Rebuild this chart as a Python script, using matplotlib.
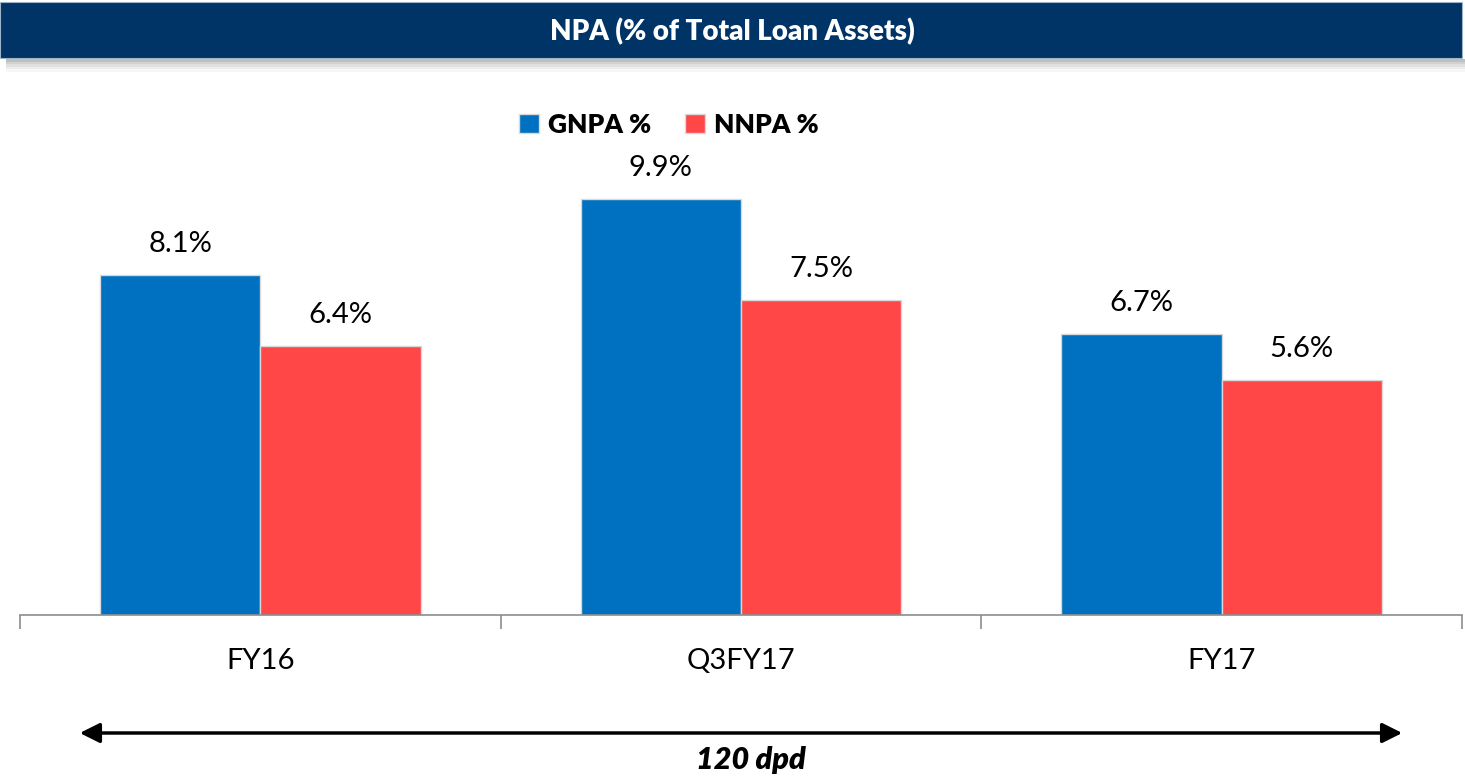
import matplotlib.pyplot as plt
import matplotlib.patches as mpatches
import numpy as np

# Data
categories = ['FY16', 'Q3FY17', 'FY17']
gnpa = [8.1, 9.9, 6.7]
nnpa = [6.4, 7.5, 5.6]
series_names = ['GNPA %', 'NNPA %']

colors = {
    'gnpa': '#0070C0',
    'nnpa': '#FF4747',
    'edge': '#D9D9D9',
    'axis': '#8C8C8C',
    'banner': '#003366',
}

plt.rcParams['font.family'] = ['Lato', 'DejaVu Sans']

fig = plt.figure(figsize=(14.65, 7.8), dpi=100)
fig.patch.set_facecolor('white')

# Title banner with soft shadow underneath
for i, a in enumerate([0.25, 0.18, 0.12, 0.07, 0.03]):
    fig.patches.append(mpatches.Rectangle(
        (0.004, 1 - (59 + 2.5 * (i + 1)) / 780), 0.996, 2.5 / 780,
        transform=fig.transFigure, facecolor='black', alpha=a, linewidth=0, zorder=0))
fig.patches.append(mpatches.Rectangle(
    (0.0, 1 - 58 / 780), 0.998, 56 / 780,
    transform=fig.transFigure, facecolor=colors['banner'], edgecolor='#9FB3C8',
    linewidth=0.8, zorder=1))
fig.text(0.5, 1 - 32 / 780, 'NPA (% of Total Loan Assets)', color='white',
         fontsize=20, fontweight='heavy', ha='center', va='center')

# Main axes
ax = fig.add_axes([20 / 1465, 1 - 615 / 780, 1442 / 1465, 504 / 780])
x = np.arange(len(categories))
w = 1 / 3
b1 = ax.bar(x - w / 2, gnpa, w, color=colors['gnpa'], edgecolor=colors['edge'],
            linewidth=1, label=series_names[0])
b2 = ax.bar(x + w / 2, nnpa, w, color=colors['nnpa'], edgecolor=colors['edge'],
            linewidth=1, label=series_names[1])

for bars, vals in ((b1, gnpa), (b2, nnpa)):
    for rect, v in zip(bars, vals):
        ax.annotate(f'{v:.1f}%', (rect.get_x() + rect.get_width() / 2, v),
                    xytext=(0, 13), textcoords='offset points',
                    ha='center', va='bottom', fontsize=21, color='black')

ax.set_xlim(-0.5, len(categories) - 0.5)
ax.set_ylim(0, 12)
ax.set_yticks([])
ax.set_xticks(x)
ax.set_xticklabels(categories, fontsize=21)
ax.set_xticks(np.arange(-0.5, len(categories)), minor=True)
ax.tick_params(axis='x', which='major', length=0, pad=24)
ax.tick_params(axis='x', which='minor', length=10, width=1.2, color=colors['axis'])
for side in ('top', 'right', 'left'):
    ax.spines[side].set_visible(False)
ax.spines['bottom'].set_color(colors['axis'])
ax.spines['bottom'].set_linewidth(1.2)
ax.patch.set_alpha(0)

# Legend
handles = [mpatches.Patch(facecolor=colors['gnpa'], edgecolor=colors['edge']),
           mpatches.Patch(facecolor=colors['nnpa'], edgecolor=colors['edge'])]
fig.legend(handles, series_names, loc='center', bbox_to_anchor=(669 / 1465, 1 - 125 / 780),
           ncol=2, frameon=False, prop={'weight': 'heavy', 'size': 19},
           handlelength=0.75, handleheight=0.75, handletextpad=0.35, columnspacing=1.3)

# Bottom arrow + caption
fig.patches.append(mpatches.FancyArrowPatch(
    (77 / 1465, 1 - 733 / 780), (1405 / 1465, 1 - 733 / 780),
    transform=fig.transFigure, arrowstyle='<|-|>', mutation_scale=30,
    color='black', linewidth=2.5))
fig.text(751 / 1465, 1 - 760 / 780, '120 dpd', fontsize=22, fontweight='heavy',
         fontstyle='italic', ha='center', va='center')

fig.savefig('out.png', dpi=100, facecolor='white')
